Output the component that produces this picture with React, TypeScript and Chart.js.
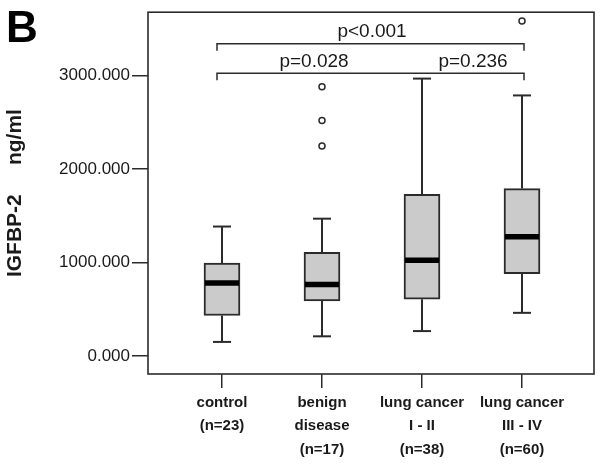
import React, { useEffect, useRef } from "react";
import { Chart, registerables } from "chart.js";

Chart.register(...registerables);

// ---- data ----
const categories: string[][] = [
  ["control", "(n=23)"],
  ["benign", "disease", "(n=17)"],
  ["lung cancer", "I - II", "(n=38)"],
  ["lung cancer", "III - IV", "(n=60)"],
];
const lowerWhisker = [152, 212, 268, 463];
const q1 = [435, 590, 608, 883];
const median = [781, 767, 1025, 1276];
const q3 = [996, 1110, 1731, 1792];
const upperWhisker = [1386, 1470, 2968, 2788];
const outlierGroup = [1, 1, 1, 3];
const outlierValue = [2880, 2520, 2247, 3583];
const yTickValues = [0, 1000, 2000, 3000];
const bracketLevels = [3340, 3025];
const bracketLabels = ["p<0.001", "p=0.028", "p=0.236"];
const bracketLabelLevel = [0, 1, 1];
const bracketLabelX = [1.5, 0.92, 2.51];

const LINE = "#2b2b2b";
const FONT = "Arial, 'Liberation Sans', sans-serif";

const overlay = {
  id: "overlay",
  beforeDatasetsDraw(chart: any) {
    const { ctx } = chart;
    const xs = chart.scales.x;
    const ys = chart.scales.y;
    ctx.save();
    ctx.strokeStyle = LINE;
    ctx.lineWidth = 2;
    for (let i = 0; i < categories.length; i++) {
      const cx = xs.getPixelForValue(i);
      const capHalf = 9;
      const segs: [number, number][] = [
        [q3[i], upperWhisker[i]],
        [q1[i], lowerWhisker[i]],
      ];
      for (const [a, b] of segs) {
        ctx.beginPath();
        ctx.moveTo(cx, ys.getPixelForValue(a));
        ctx.lineTo(cx, ys.getPixelForValue(b));
        ctx.stroke();
        ctx.beginPath();
        ctx.moveTo(cx - capHalf, ys.getPixelForValue(b));
        ctx.lineTo(cx + capHalf, ys.getPixelForValue(b));
        ctx.stroke();
      }
    }
    ctx.restore();
  },
  afterDatasetsDraw(chart: any) {
    const { ctx, chartArea } = chart;
    const xs = chart.scales.x;
    const ys = chart.scales.y;
    ctx.save();
    // medians
    ctx.strokeStyle = "#000";
    ctx.lineWidth = 5.5;
    for (let i = 0; i < categories.length; i++) {
      const cx = xs.getPixelForValue(i);
      const y = ys.getPixelForValue(median[i]);
      ctx.beginPath();
      ctx.moveTo(cx - 17, y);
      ctx.lineTo(cx + 17, y);
      ctx.stroke();
    }
    // frame
    ctx.strokeStyle = LINE;
    ctx.lineWidth = 1.6;
    ctx.strokeRect(
      chartArea.left,
      chartArea.top,
      chartArea.right - chartArea.left,
      chartArea.bottom - chartArea.top
    );
    // brackets
    ctx.lineWidth = 1.5;
    const x0 = xs.getPixelForValue(-0.05);
    const x1 = xs.getPixelForValue(3.02);
    for (const lvl of bracketLevels) {
      const y = ys.getPixelForValue(lvl);
      ctx.beginPath();
      ctx.moveTo(x0, y + 7);
      ctx.lineTo(x0, y);
      ctx.lineTo(x1, y);
      ctx.lineTo(x1, y + 7);
      ctx.stroke();
    }
    ctx.fillStyle = "#1a1a1a";
    ctx.font = `19px ${FONT}`;
    ctx.textAlign = "center";
    ctx.textBaseline = "alphabetic";
    for (let i = 0; i < bracketLabels.length; i++) {
      const y = ys.getPixelForValue(bracketLevels[bracketLabelLevel[i]]);
      ctx.fillText(bracketLabels[i], xs.getPixelForValue(bracketLabelX[i]), y - 6.5);
    }
    ctx.restore();
  },
  afterDraw(chart: any) {
    const { ctx } = chart;
    ctx.save();
    ctx.fillStyle = "#000";
    ctx.font = `bold 44px ${FONT}`;
    ctx.textAlign = "left";
    ctx.textBaseline = "alphabetic";
    ctx.fillText("B", 6, 42);
    ctx.restore();
  },
};

export default function App() {
  const ref = useRef<HTMLCanvasElement>(null);
  useEffect(() => {
    if (!ref.current) return;
    const chart = new Chart(ref.current, {
      type: "bar",
      data: {
        datasets: [
          {
            type: "bar",
            data: categories.map((_, i) => ({ x: i, y: [q1[i], q3[i]] })) as any,
            backgroundColor: "#cbcbcb",
            borderColor: LINE,
            borderWidth: 2,
            borderSkipped: false,
            barThickness: 36,
          } as any,
          {
            type: "line",
            data: outlierGroup.map((g, i) => ({ x: g, y: outlierValue[i] })),
            showLine: false,
            pointStyle: "circle",
            pointRadius: 3,
            pointBorderWidth: 1.5,
            pointBorderColor: LINE,
            pointBackgroundColor: "#fff",
          } as any,
        ],
      },
      options: {
        animation: false,
        responsive: false,
        devicePixelRatio: 1,
        layout: { padding: { left: 0, top: 9, right: 8, bottom: 0 } },
        plugins: { legend: { display: false }, tooltip: { enabled: false } },
        scales: {
          x: {
            type: "linear",
            offset: false,
            min: -0.74,
            max: 3.72,
            afterBuildTicks: (s: any) => {
              s.ticks = categories.map((_, i) => ({ value: i }));
            },
            afterFit: (s: any) => {
              s.height = 92;
            },
            border: { display: false },
            grid: {
              offset: false,
              drawOnChartArea: false,
              drawTicks: true,
              tickLength: 14,
              color: LINE,
              lineWidth: 1.5,
            },
            ticks: {
              padding: 3,
              maxRotation: 0,
              autoSkip: false,
              color: "#1a1a1a",
              font: { family: FONT, size: 15, weight: "bold", lineHeight: 1.57 },
              callback: (v: any) => categories[Math.round(Number(v))] ?? "",
            },
          },
          y: {
            type: "linear",
            min: -191,
            max: 3678,
            afterBuildTicks: (s: any) => {
              s.ticks = yTickValues.map((v) => ({ value: v }));
            },
            afterFit: (s: any) => {
              s.width = 148;
            },
            border: { display: false },
            grid: {
              drawOnChartArea: false,
              drawTicks: true,
              tickLength: 16,
              color: LINE,
              lineWidth: 1.5,
            },
            ticks: {
              padding: 2,
              color: "#1a1a1a",
              font: { family: FONT, size: 17 },
              callback: (v: any) => Number(v).toFixed(3),
            },
            title: {
              display: true,
              text: "IGFBP-2     ng/ml",
              color: "#1a1a1a",
              padding: { top: 3, bottom: 0 },
              font: { family: FONT, size: 21, weight: "bold", lineHeight: 1.2 },
            },
          },
        },
      },
      plugins: [overlay],
    });
    return () => chart.destroy();
  }, []);
  return (
    <div style={{ position: "absolute", left: 0, top: 0, width: 602, height: 466, background: "#fff" }}>
      <canvas ref={ref} width={602} height={466} style={{ display: "block" }} />
    </div>
  );
}
